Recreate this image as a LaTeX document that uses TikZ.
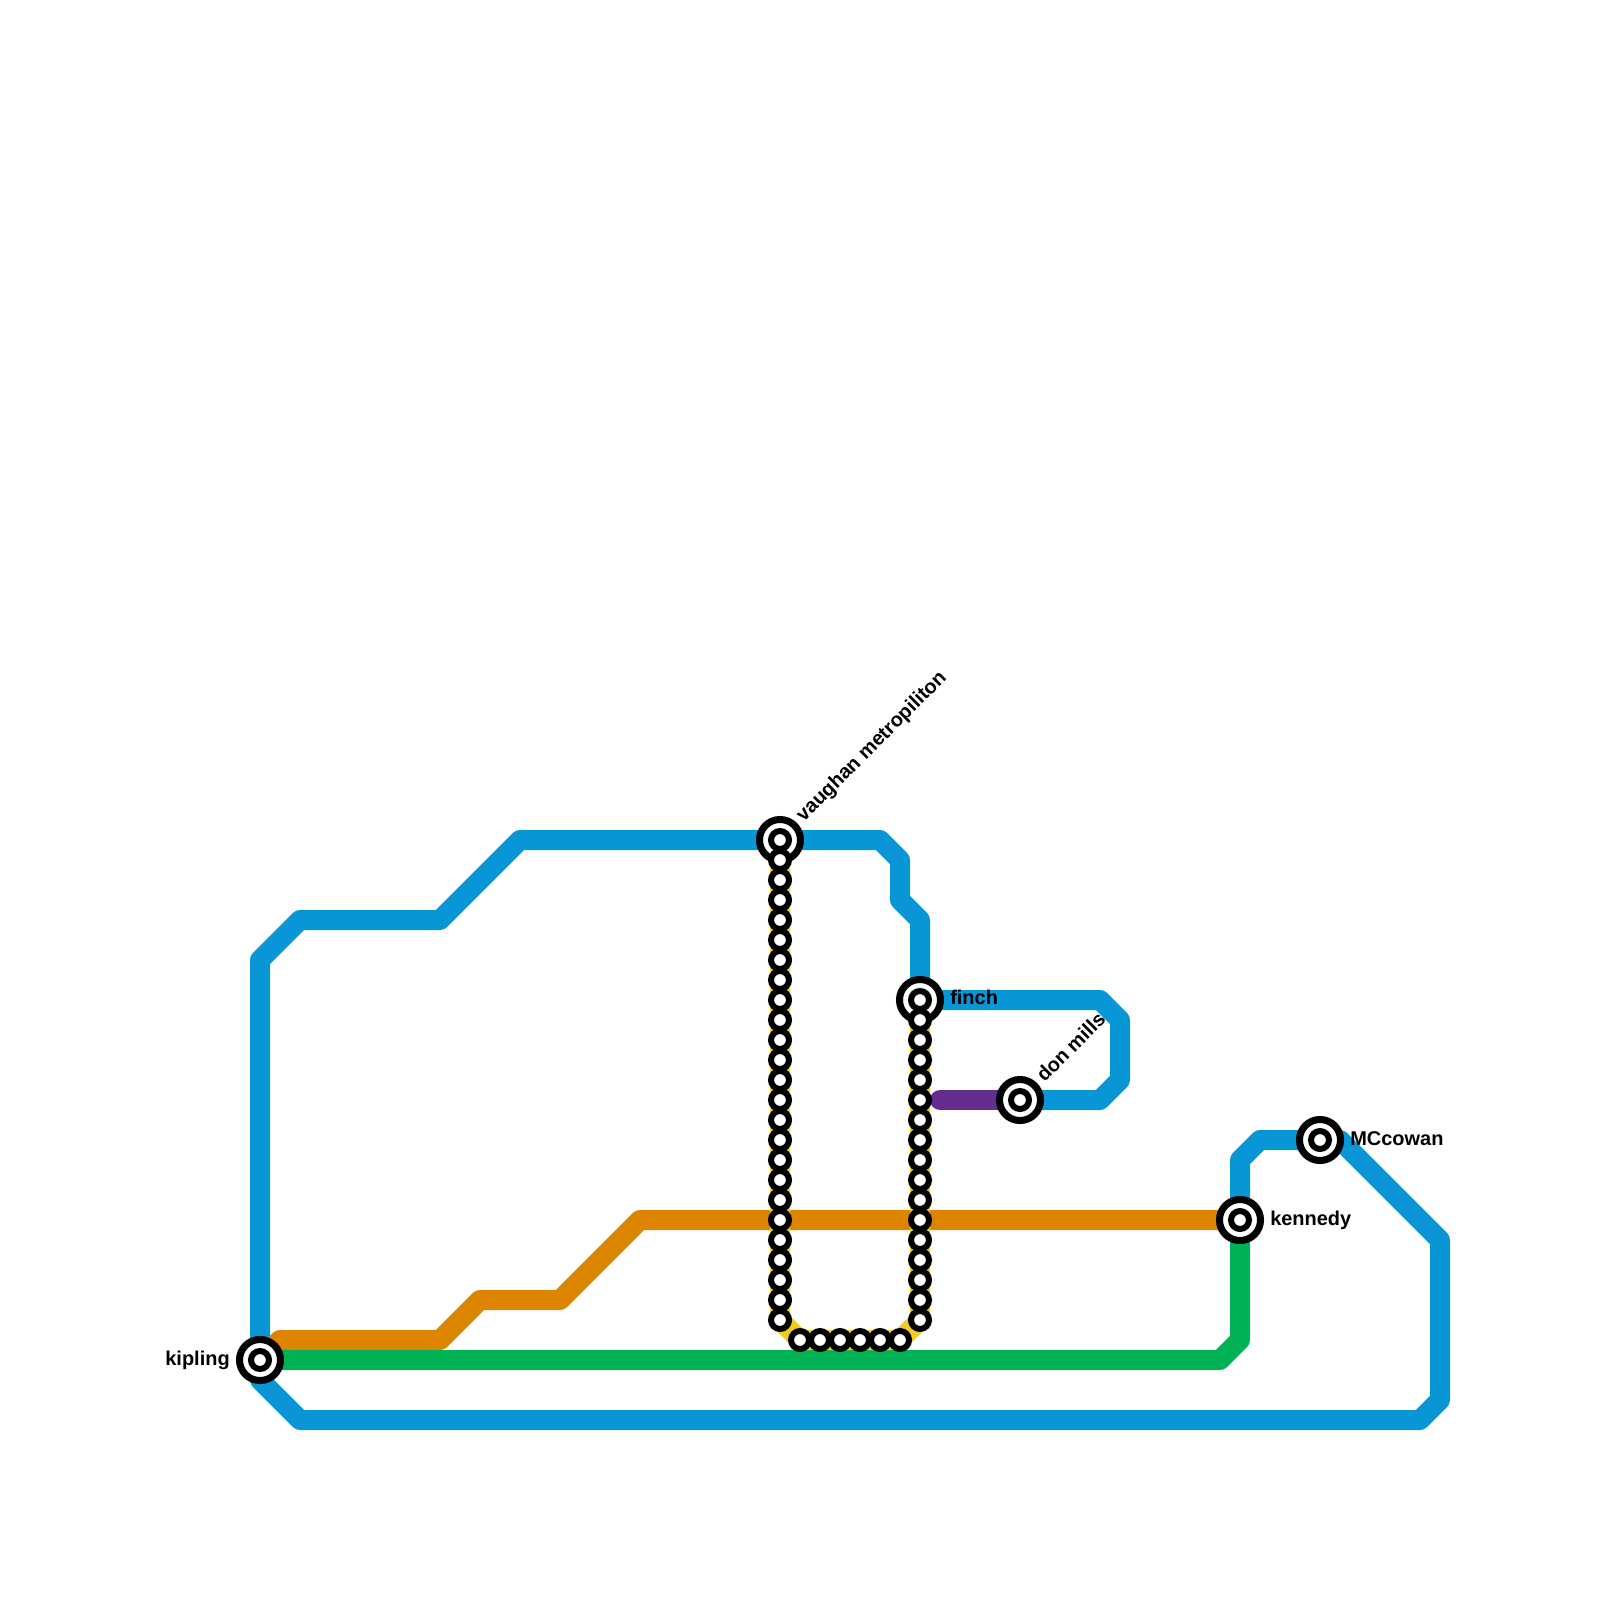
\documentclass[tikz,border=0pt]{standalone}
\usepackage{fontspec}
\setmainfont{Liberation Sans}
\pgfdeclarelayer{lines}
\pgfsetlayers{lines,main}
\definecolor{linea}{RGB}{9,150,215}
\definecolor{lineb}{RGB}{222,133,0}
\definecolor{linec}{RGB}{0,178,84}
\definecolor{lined}{RGB}{102,45,145}
\definecolor{linee}{RGB}{240,205,30}
\tikzset{
    metro/.style={line width=14.23pt,line cap=round,line join=round},
    bigstop/.style={circle,draw=black,fill=white,line width=5pt,minimum size=29.2pt,inner sep=0pt,outer sep=0pt},
    smallstop/.style={circle,draw=black,fill=white,line width=4.27pt,minimum size=12.8pt,inner sep=0pt,outer sep=0pt},
    stoptext/.style={inner sep=0pt,font=\fontsize{14.2}{16}\selectfont\bfseries}
}
\begin{document}
\begin{tikzpicture}[x=0.5cm,y=-0.5cm]
    \useasboundingbox (0,0) rectangle (80,80);
    \foreach \name/\x/\y in {kipling/13/68,vaughan/39/42,finch/46/50,donmills/51/55,mccowan/66/57,kennedy/62/61} {
        \node[bigstop] (\name) at (\x,\y) {};
        \node[smallstop] (\name ring) at (\x,\y) {};
    }
    \foreach \i in {43,...,66} \node[smallstop] (left\i) at (39,\i) {};
    \foreach \i in {40,...,45} \node[smallstop] (bottom\i) at (\i,67) {};
    \foreach \i in {51,...,66} \node[smallstop] (right\i) at (46,\i) {};
    \node[stoptext,anchor=east] (kiplingtext) at (11.5,68) {kipling};
    \node[stoptext,anchor=west,rotate=45] (vaughantext) at (40,40.95) {vaughan metropiliton};
    \node[stoptext,anchor=west] (finchtext) at (47.5,49.85) {finch};
    \node[stoptext,anchor=west,rotate=45] (donmillstext) at (51.97,53.9) {don mills};
    \node[stoptext,anchor=west] (mccowantext) at (67.5,56.95) {MCcowan};
    \node[stoptext,anchor=west] (kennedytext) at (63.5,61) {kennedy};
    % bends
    \foreach \n/\x/\y in {a1/13/48,a2/15/46,a3/22/46,a4/26/42,a5/44/42,a6/45/43,a7/45/45,a8/46/46,a9/55/50,a10/56/51,a11/56/54,a12/55/55,
        c0/13/69,c1/15/71,c2/71/71,c3/72/70,c4/72/62,c5/67/57,c6/63/57,c7/62/58,
        o1/14/67,o2/22/67,o3/24/65,o4/28/65,o5/32/61,
        g1/61/68,g2/62/67,p1/47/55,
        y1/39/66,y2/40/67,y3/45/67,y4/46/66}
        \coordinate (\n) at (\x,\y);
    \begin{pgfonlayer}{lines}
        \draw[metro,linea] (kipling.center) -- (a1) -- (a2) -- (a3) -- (a4) -- (vaughan.center) -- (a5) -- (a6) -- (a7) -- (a8) -- (finch.center) -- (a9) -- (a10) -- (a11) -- (a12) -- (donmills.center);
        \draw[metro,linea] (kipling.center) -- (c0) -- (c1) -- (c2) -- (c3) -- (c4) -- (c5) -- (mccowan.center) -- (c6) -- (c7) -- (kennedy.center);
        \draw[metro,lineb] (kipling.center) -- (o1) -- (o2) -- (o3) -- (o4) -- (o5) -- (kennedy.center);
        \draw[metro,linec] (kipling.center) -- (g1) -- (g2) -- (kennedy.center);
        \draw[metro,lined] (p1) -- (donmills.center);
        \draw[metro,linee] (vaughan.center) -- (y1) -- (y2) -- (y3) -- (y4) -- (finch.center);
    \end{pgfonlayer}
\end{tikzpicture}
\end{document}
